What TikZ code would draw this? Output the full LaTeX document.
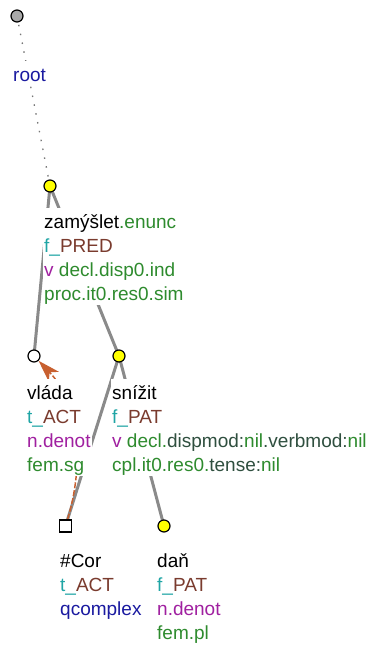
\documentclass[tikz,border=0pt]{standalone}
\usepackage{fontspec}
\setmainfont{Liberation Sans}
\usetikzlibrary{arrows.meta,backgrounds}
\definecolor{cgreen}{HTML}{2E8B2E}
\definecolor{cdark}{HTML}{2F4F3F}
\definecolor{cteal}{HTML}{1FA5A5}
\definecolor{cbrown}{HTML}{7A3B2E}
\definecolor{cpurple}{HTML}{A020A0}
\definecolor{cblue}{HTML}{1A1AA0}
\definecolor{cedge}{HTML}{8A8A8A}
\definecolor{cdots}{HTML}{777777}
\definecolor{ccoref}{HTML}{C8602F}
\definecolor{cyel}{HTML}{FFFF00}
\definecolor{cgrayn}{HTML}{A8A8A8}
\newcommand{\fl}{\rule{0pt}{19pt}}
\begin{document}
\begin{tikzpicture}[x=1pt,y=-1pt,
  tnode/.style={circle,draw=black,line width=1.2pt,minimum size=12pt,inner sep=0pt},
  sqnode/.style={rectangle,draw=black,line width=1.2pt,fill=white,minimum size=12pt,inner sep=0pt},
  lbl/.style={anchor=north west,align=left,fill=white,inner sep=1pt,
    font=\fontsize{19pt}{24pt}\selectfont},
  edge/.style={draw=cedge,line width=3pt},
  rootedge/.style={draw=cdots,line width=1.3pt,dash pattern=on 1.5pt off 7.5pt},
  coref/.style={draw=ccoref,line width=1.5pt,dash pattern=on 6pt off 2pt,
    -{Stealth[length=22pt,width=14pt,inset=6pt]}}
]
\useasboundingbox (0,0) rectangle (375,645);
% nodes
\node[tnode,fill=cgrayn] (root) at (17,16) {};
\node[tnode,fill=cyel] (zam) at (50,186) {};
\node[tnode,fill=white] (vlada) at (34,356) {};
\node[tnode,fill=cyel] (snizit) at (119,356) {};
\node[sqnode] (cor) at (65.5,526) {};
\node[tnode,fill=cyel] (dan) at (164,526) {};
% labels
\node[lbl] (Lroot) at (12,61) {\fl\textcolor{cblue}{root}};
\node[lbl] (Lzam) at (43,208) {\fl zamýšlet\textcolor{cgreen}{.enunc}\\
  \textcolor{cteal}{f\_}\textcolor{cbrown}{PRED}\\
  \textcolor{cpurple}{v} \textcolor{cgreen}{decl.disp0.ind}\\
  \textcolor{cgreen}{proc.it0.res0.sim}};
\node[lbl] (Lvlada) at (26,379) {\fl vláda\\
  \textcolor{cteal}{t\_}\textcolor{cbrown}{ACT}\\
  \textcolor{cpurple}{n.denot}\\
  \textcolor{cgreen}{fem.sg}};
\node[lbl] (Lsnizit) at (111,379) {\fl snížit\\
  \textcolor{cteal}{f\_}\textcolor{cbrown}{PAT}\\
  \textcolor{cpurple}{v} \textcolor{cgreen}{decl.}\textcolor{cdark}{dispmod:}\textcolor{cgreen}{nil}\textcolor{cdark}{.verbmod:}\textcolor{cgreen}{nil}\\
  \textcolor{cgreen}{cpl.it0.res0.}\textcolor{cdark}{tense:}\textcolor{cgreen}{nil}};
\node[lbl] (Lcor) at (59,547) {\fl\#Cor\\
  \textcolor{cteal}{t\_}\textcolor{cbrown}{ACT}\\
  \textcolor{cblue}{qcomplex}};
\node[lbl] (Ldan) at (156,547) {\fl daň\\
  \textcolor{cteal}{f\_}\textcolor{cbrown}{PAT}\\
  \textcolor{cpurple}{n.denot}\\
  \textcolor{cgreen}{fem.pl}};
% connectors
\begin{scope}[on background layer]
  \draw[rootedge] (root.center) -- (zam.center);
  \draw[edge] (zam.center) -- (vlada.center);
  \draw[edge] (zam.center) -- (snizit.center);
  \draw[edge] (snizit.center) -- (cor.center);
  \draw[edge] (snizit.center) -- (dan.center);
  \draw[coref] (cor) .. controls (84,466) and (80,404) .. (vlada);
\end{scope}
\end{tikzpicture}
\end{document}
